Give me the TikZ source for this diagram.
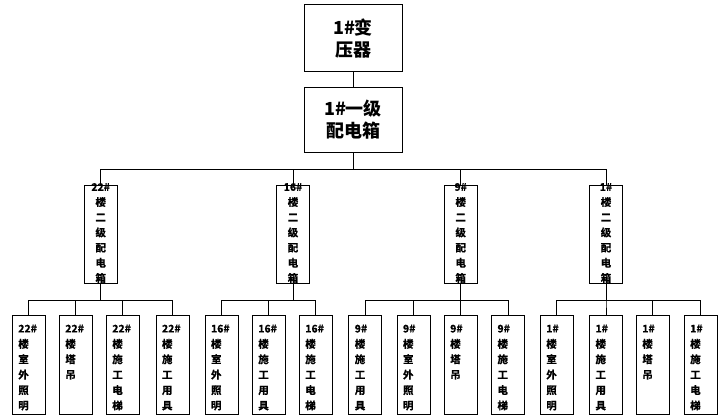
\documentclass[tikz,border=0pt]{standalone}
\usepackage{fontspec}
\setmainfont{Noto Sans CJK SC}
\newfontfamily\heavyfont{Noto Sans CJK SC}[UprightFont=* Bold,FakeBold=0.7]

\tikzset{
  bigbox/.style={draw,minimum width=98pt,inner sep=0pt,align=center,
    font=\bfseries\fontsize{18}{22}\selectfont},
  midbox/.style={draw,minimum width=33pt,minimum height=98pt,inner sep=0pt},
  leafbox/.style={draw,minimum width=33pt,minimum height=98.6pt,inner sep=0pt},
  vtext/.style={inner sep=0pt,align=center,yshift=1pt,
    font=\heavyfont\fontsize{10.5}{15.2}\selectfont},
  leaftext/.style={inner sep=0pt,align=left,anchor=north west,xshift=6pt,yshift=-9pt,
    font=\heavyfont\fontsize{10.5}{15.4}\selectfont}
}

\begin{document}
\begin{tikzpicture}[x=1pt,y=-1pt,line width=1pt]
  \useasboundingbox (0,0) rectangle (720,420);

  % transformator si tabloul general
  \node[bigbox,minimum height=66.7pt] (tr) at (353,38.3) {1\#变\\压器};
  \node[bigbox,minimum height=65pt] (p1) at (353,119.8) {1\#一级\\配电箱};
  \draw (tr) -- (p1);
  \coordinate (bus) at (353,169);

  % tablourile secundare
  \foreach \x/\nm/\nr in {100.7/b22/22,293/b16/16,460.7/b9/9,606/b1/1}
  {
    \node[midbox,label={[vtext]center:{\nr\#\\楼\\二\\级\\配\\电\\箱}}] (\nm) at (\x,234) {};
    \draw (p1.south) -- (bus) -| (\nm.north);
    \coordinate (s\nm) at (\x,300.7);
  }

  % consumatorii
  \foreach \x/\p/\txt [count=\i] in {
    28.8/b22/{22\#\\楼\\室\\外\\照\\明}, 75.8/b22/{22\#\\楼\\塔\\吊},
    122.8/b22/{22\#\\楼\\施\\工\\电\\梯}, 172.5/b22/{22\#\\楼\\施\\工\\用\\具},
    221.5/b16/{16\#\\楼\\室\\外\\照\\明}, 268.8/b16/{16\#\\楼\\施\\工\\用\\具},
    315.8/b16/{16\#\\楼\\施\\工\\电\\梯},
    365.3/b9/{9\#\\楼\\施\\工\\用\\具}, 413.5/b9/{9\#\\楼\\室\\外\\照\\明},
    460.7/b9/{9\#\\楼\\塔\\吊}, 508/b9/{9\#\\楼\\施\\工\\电\\梯},
    556.8/b1/{1\#\\楼\\室\\外\\照\\明}, 606/b1/{1\#\\楼\\施\\工\\用\\具},
    652.8/b1/{1\#\\楼\\塔\\吊}, 700.7/b1/{1\#\\楼\\施\\工\\电\\梯}}
  {
    \node[leafbox,label={[leaftext]north west:{\txt}}] (l\i) at (\x,365) {};
    \draw (\p.south) -- (s\p) -| (l\i.north);
  }
\end{tikzpicture}
\end{document}
